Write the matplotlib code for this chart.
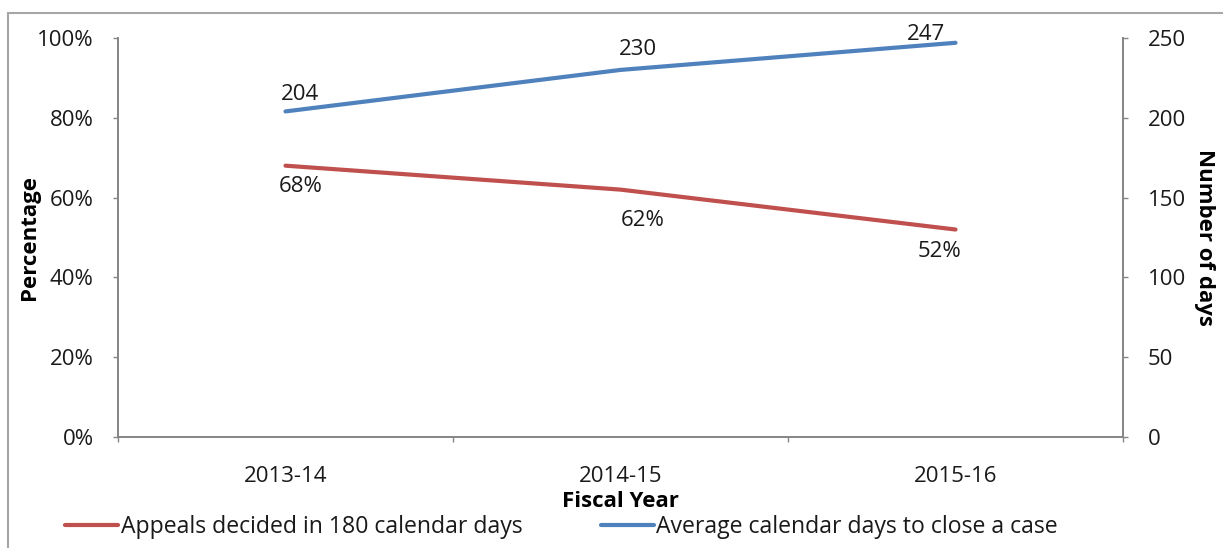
import matplotlib.pyplot as plt
from matplotlib.patches import Rectangle
from matplotlib.ticker import PercentFormatter

# Data
years = ["2013-14", "2014-15", "2015-16"]
pct_decided = [68, 62, 52]
avg_days = [204, 230, 247]

# label offsets in pixels (style only, labels were hand-placed in the original)
pct_label_off = [(15, -21), (22, -31), (-16, -22)]
days_label_off = [(15, 17), (17, 20), (-29, 8)]

red = "#C0504D"
blue = "#4F81BD"
axis_gray = "#868686"

plt.rcParams["font.family"] = ["Open Sans", "DejaVu Sans"]
plt.rcParams["font.size"] = 16
plt.rcParams["text.color"] = "#1a1a1a"

W, H = 1223, 548
fig = plt.figure(figsize=(W / 100, H / 100), dpi=100)
px = 0.72  # points per pixel at dpi 100

# Outer chart border (top and left visible)
fig.patches.append(Rectangle((8 / W, -0.1), 1.2, 1.1 - 13 / H, transform=fig.transFigure,
                             fill=False, edgecolor="#A6A6A6", linewidth=1.5))

ax = fig.add_axes([118 / W, 1 - 437 / H, (1123 - 118) / W, (437 - 38) / H])
ax2 = ax.twinx()

x = list(range(len(years)))
ax.plot(x, pct_decided, color=red, linewidth=3.0, solid_capstyle="round", label="Appeals decided in 180 calendar days")
ax2.plot(x, avg_days, color=blue, linewidth=3.0, solid_capstyle="round", label="Average calendar days to close a case")

ax.set_xlim(-0.5, 2.5)
ax.set_ylim(0, 100)
ax2.set_ylim(0, 250)
ax.set_yticks(range(0, 101, 20))
ax.yaxis.set_major_formatter(PercentFormatter(decimals=0))
ax2.set_yticks(range(0, 251, 50))

ax.set_xticks(x)
ax.set_xticklabels(years)
ax.set_xticks([-0.5, 0.5, 1.5, 2.5], minor=True)
ax.tick_params(axis="x", which="major", length=0, pad=21)
ax.tick_params(axis="x", which="minor", length=5 * px, color=axis_gray, width=1)
ax.tick_params(axis="y", length=5 * px, color=axis_gray, width=1, pad=14, labelcolor="#1a1a1a")
ax2.tick_params(axis="y", length=5 * px, color=axis_gray, width=1, pad=14, labelcolor="#1a1a1a")
ax.tick_params(axis="x", labelcolor="#1a1a1a")

for a in (ax, ax2):
    a.spines["top"].set_visible(False)
    for s in ("left", "right", "bottom"):
        a.spines[s].set_color(axis_gray)
        a.spines[s].set_linewidth(1.3)

# Data labels
for xi, v, (dx, dy) in zip(x, pct_decided, pct_label_off):
    ax.annotate(f"{v}%", (xi, v), xytext=(dx * px, dy * px), textcoords="offset points",
                ha="center", va="center")
for xi, v, (dx, dy) in zip(x, avg_days, days_label_off):
    ax2.annotate(f"{v}", (xi, v), xytext=(dx * px, dy * px), textcoords="offset points",
                 ha="center", va="center")

ax.set_ylabel("Percentage", fontweight="bold", va="center")
ax.yaxis.set_label_coords((30 - 118) / 1005, 0.5)
ax2.set_ylabel("Number of days", fontweight="bold", rotation=-90, va="center")
ax2.yaxis.set_label_coords((1205 - 118) / 1005, 0.5)
ax.set_xlabel("Fiscal Year", fontweight="bold", labelpad=3)

h1, l1 = ax.get_legend_handles_labels()
h2, l2 = ax2.get_legend_handles_labels()
fig.legend(h1 + h2, l1 + l2, loc="center", bbox_to_anchor=(0.459, 1 - 527 / H), ncol=2,
           frameon=False, handlelength=2.3, handletextpad=0.1, columnspacing=3.4, fontsize=16.6)

fig.savefig("out.png", dpi=100)
